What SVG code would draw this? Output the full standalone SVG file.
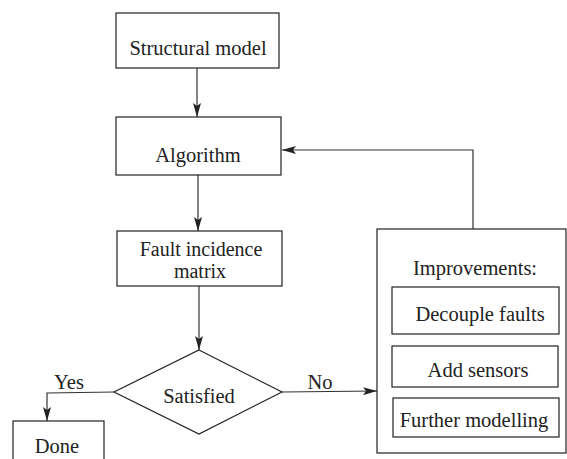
<svg xmlns="http://www.w3.org/2000/svg" width="567" height="459" viewBox="0 0 567 459">
<style>
.box{fill:#fff;stroke:#222;stroke-width:1.2}
.t{font-family:"Liberation Serif","Times New Roman",serif;font-size:20.5px;fill:#222;text-anchor:middle}
.c{fill:none;stroke:#333;stroke-width:1.2}
</style>
<defs>
<marker id="ah" viewBox="0 0 14 8" refX="14" refY="4" markerWidth="14" markerHeight="8" markerUnits="userSpaceOnUse" orient="auto">
<path d="M0,0 L14,4 L0,8 L3,4 Z" fill="#222"/>
</marker>
</defs>
<rect width="567" height="459" fill="#fff"/>
<g id="connectors">
<line class="c" x1="197" y1="68" x2="197" y2="117" marker-end="url(#ah)"/>
<line class="c" x1="198" y1="175" x2="198" y2="231" marker-end="url(#ah)"/>
<line class="c" x1="199" y1="286" x2="199" y2="350" marker-end="url(#ah)"/>
<polyline class="c" points="114,392 47,393 47,421" marker-end="url(#ah)"/>
<line class="c" x1="282" y1="392" x2="377" y2="391" marker-end="url(#ah)"/>
<polyline class="c" points="473,229 473,150 282,150" marker-end="url(#ah)"/>
<text class="t" x="69" y="389">Yes</text>
<text class="t" x="320" y="389">No</text>
</g>
<g id="structural">
<rect class="box" x="116" y="13" width="163" height="55"/>
<text class="t" x="198" y="55">Structural model</text>
</g>
<g id="algorithm">
<rect class="box" x="116" y="117" width="165" height="58"/>
<text class="t" x="198" y="162">Algorithm</text>
</g>
<g id="fault">
<rect class="box" x="117" y="231" width="165" height="55"/>
<text class="t" x="201" y="256" style="font-size:20px">Fault incidence</text>
<text class="t" x="200" y="278" style="font-size:20px">matrix</text>
</g>
<g id="satisfied">
<polygon class="box" points="199,350 282,392 199,434 114,392"/>
<text class="t" x="199" y="403">Satisfied</text>
</g>
<g id="done">
<rect class="box" x="13" y="421" width="91" height="50"/>
<text class="t" x="57" y="453">Done</text>
</g>
<g id="improvements">
<rect class="box" x="377" y="229" width="189" height="224"/>
<text class="t" x="475" y="275">Improvements:</text>
</g>
<g id="decouple">
<rect class="box" x="392" y="287" width="167" height="47"/>
<text class="t" x="480" y="321">Decouple faults</text>
</g>
<g id="sensors">
<rect class="box" x="392" y="346" width="166" height="41"/>
<text class="t" x="478" y="377">Add sensors</text>
</g>
<g id="modelling">
<rect class="box" x="393" y="398" width="166" height="39"/>
<text class="t" x="474" y="427">Further modelling</text>
</g>
</svg>
